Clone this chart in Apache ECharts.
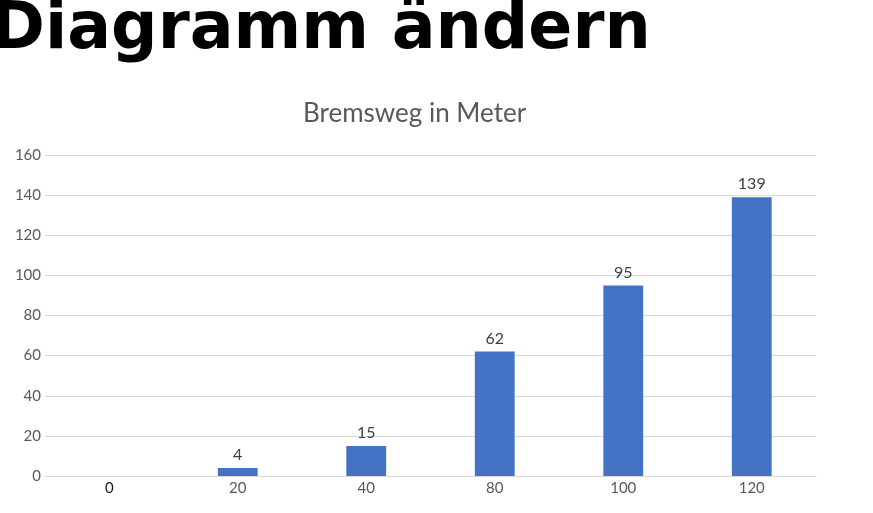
<!DOCTYPE html>
<html><head><meta charset="utf-8">
<script src="https://cdn.jsdelivr.net/npm/echarts@6/dist/echarts.min.js"></script>
<style>html,body{margin:0;padding:0;background:#fff}#c{width:873px;height:513px}</style>
</head><body><div id="c"></div>
<script>
const pageTitle = 'Diagramm ändern';
const chartTitle = 'Bremsweg in Meter';
const categories = ['0', '20', '40', '80', '100', '120'];
const values = [0, 4, 15, 62, 95, 139];
const yTicks = [0, 20, 40, 60, 80, 100, 120, 140, 160];

const chart = echarts.init(document.getElementById('c'));
chart.setOption({
  animation: false,
  backgroundColor: '#fff',
  title: {
    text: chartTitle, left: 298, top: 96,
    textStyle: { fontFamily: 'Lato', fontWeight: 'normal', fontSize: 26, color: '#595959' }
  },
  graphic: [{
    type: 'text', left: -9, top: -1,
    style: { text: pageTitle, font: 'bold 65px "DejaVu Sans"', fill: '#000' }
  }],
  grid: { left: 45, right: 57, top: 155, bottom: 37, containLabel: false },
  xAxis: {
    type: 'category', data: categories,
    axisLine: { lineStyle: { color: '#d9d9d9' } },
    axisTick: { show: false },
    axisLabel: {
      fontFamily: 'Lato', fontSize: 15, color: '#595959', margin: 5,
      formatter: (v, i) => i === 0 ? '{d|' + v + '}' : v,
      rich: { d: { fontFamily: 'Lato', fontSize: 15, color: '#1a1a1a' } }
    }
  },
  yAxis: {
    type: 'value', min: yTicks[0], max: yTicks[yTicks.length - 1], interval: 20,
    axisLine: { show: false }, axisTick: { show: false },
    axisLabel: { fontFamily: 'Lato', fontSize: 15, color: '#595959', margin: 4 },
    splitLine: { lineStyle: { color: '#d9d9d9' } }
  },
  series: [{
    type: 'bar', data: values, barWidth: '31%',
    itemStyle: { color: '#4472C4' },
    label: {
      show: true, position: 'top', distance: 5,
      fontFamily: 'Lato', fontSize: 16, color: '#404040',
      formatter: p => p.value === 0 ? '' : p.value
    }
  }]
});
</script></body></html>
